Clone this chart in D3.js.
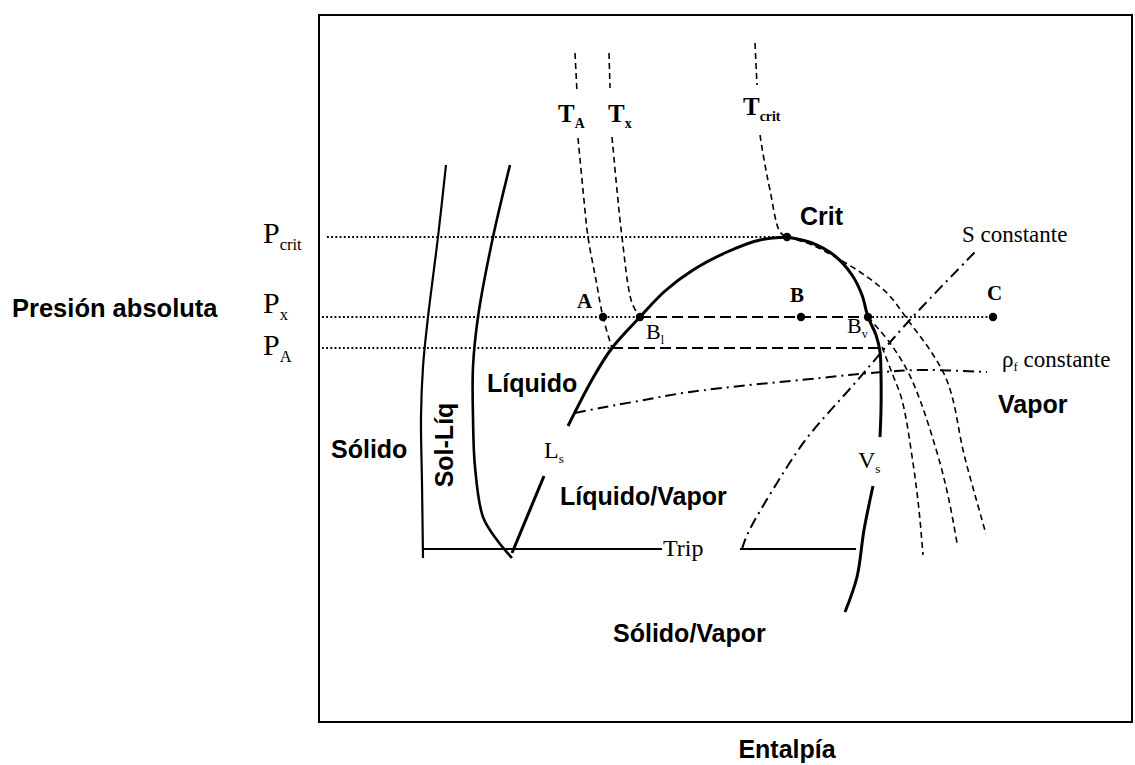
<!DOCTYPE html>
<html>
<head>
<meta charset="utf-8">
<script src="https://cdn.jsdelivr.net/npm/d3@7"></script>
<style>
body { margin: 0; background: #fff; }
.sans { font-family: "Liberation Sans", Arial, sans-serif; font-weight: bold; font-size: 25px; }
.serif { font-family: "Liberation Serif", "Times New Roman", serif; }
</style>
</head>
<body>
<div id="SVG_CONTAINER"></div>
<script>
// enthalpy (x) and absolute pressure (y), arbitrary units
const P_CRIT = 485, P_X = 405, P_A = 374, P_TRIP = 173;

// saturation dome
const liquidSatUpper = [[249,296],[274,344],[293,374],[321,405],[346,431],[374,452],[408,470],[441,482],[468,485]];
const liquidSatLower = [[225,246],[193,169]];
const vaporSatUpper = [[468,485],[493,479],[516,466],[533,447],[543,427],[549,405],[557,387],[561,370],[562,347],[562,312],[561,285]];
const vaporSatLower = [[554,236],[545,192],[538,145],[526,110]];

// solid boundaries
const solidLine = [[127,557],[119,485],[109,405],[104,355],[102,305],[103,239],[104,164]];
const meltLine = [[191,557],[174,485],[159,405],[154,355],[154,305],[156,255],[164,205],[178,182],[193,164]];
const tripLeft = [[103,P_TRIP],[343,P_TRIP]];
const tripRight = [[421,P_TRIP],[537,P_TRIP]];

// isotherms (dashed)
const tA_top = [[256,669],[258,630]];
const tA_liq = [[259,584],[264,532],[269,485],[277,442],[284,405],[293,374]];
const tA_vap = [[563,375],[573,349],[583,322],[594,259],[600,212],[604,167]];
const tX_top = [[290,669],[291,634]];
const tX_liq = [[293,585],[298,532],[303,485],[313,419],[321,405]];
const tX_vap = [[549,405],[571,379],[588,352],[601,322],[621,259],[631,217],[638,179]];
const tCrit_top = [[436,679],[438,637]];
const tCrit_liq = [[441,587],[446,557],[451,532],[461,490],[468,485]];
const tCrit_vap = [[468,485],[493,477],[516,465],[541,450],[568,429],[591,399],[611,372],[626,346],[634,322],[644,272],[656,227],[667,188]];

// constant entropy / density (dash-dot)
const sConst = [[423,173],[429,189],[458,239],[488,284],[536,339],[589,400],[656,470]];
const rhoConst = [[256,309],[281,314],[314,320],[371,330],[501,344],[551,349],[601,352],[668,350]];

// isobars
const pCritDotted = [[8,P_CRIT],[468,P_CRIT]];
const pxDotted1 = [[3,P_X],[321,P_X]];
const pxDashed = [[321,P_X],[549,P_X]];
const pxDotted2 = [[549,P_X],[674,P_X]];
const paDotted = [[3,P_A],[293,P_A]];
const paDashed = [[293,P_A],[563,P_A]];

// state points
const stateNames = ["A", "Bl", "B", "Bv", "C", "Crit"];
const stateH = [284, 321, 482, 549, 674, 468];
const stateP = [P_X, P_X, P_X, P_X, P_X, P_CRIT];

const width = 1135, height = 765;

const svg = d3.select("#SVG_CONTAINER")
    .append("svg")
    .attr("width", width)
    .attr("height", height);

const x = d3.scaleLinear().domain([0, 813]).range([319, 1132]);
const y = d3.scaleLinear().domain([0, 707]).range([722, 15]);

// frame
svg.append("rect")
    .attr("x", x(0)).attr("y", y(707))
    .attr("width", x(813) - x(0)).attr("height", y(0) - y(707))
    .attr("fill", "none").attr("stroke", "#000").attr("stroke-width", 2);

const smooth = d3.line().x(d => x(d[0])).y(d => y(d[1])).curve(d3.curveCatmullRom);
const straight = d3.line().x(d => x(d[0])).y(d => y(d[1]));

function draw(pts, w, dash, gen) {
    svg.append("path")
        .attr("d", (gen || smooth)(pts))
        .attr("fill", "none")
        .attr("stroke", "#000")
        .attr("stroke-width", w)
        .attr("stroke-dasharray", dash || null);
}

const DOT = "1.8,2.4", DASH = "6,4", LDASH = "11,5", DASHDOT = "11,5,2,5";

// isobars
draw(pCritDotted, 1.8, DOT, straight);
draw(pxDotted1, 1.8, DOT, straight);
draw(pxDashed, 1.8, LDASH, straight);
draw(pxDotted2, 1.8, DOT, straight);
draw(paDotted, 1.8, DOT, straight);
draw(paDashed, 1.8, LDASH, straight);

// isotherms
[tA_top, tA_liq, tA_vap, tX_top, tX_liq, tX_vap, tCrit_top, tCrit_liq, tCrit_vap]
    .forEach(t => draw(t, 1.6, DASH));

// dash-dot lines
draw(sConst, 2, DASHDOT);
draw(rhoConst, 2, DASHDOT);

// solid lines
draw(solidLine, 2.2);
draw(meltLine, 2.6);
draw(tripLeft, 2, null, straight);
draw(tripRight, 2, null, straight);
draw(liquidSatUpper, 3);
draw(liquidSatLower, 3, null, straight);
draw(vaporSatUpper, 3);
draw(vaporSatLower, 3);

// state points
svg.selectAll("circle.state")
    .data(stateNames)
    .enter()
    .append("circle")
    .attr("class", "state")
    .attr("cx", (d, i) => x(stateH[i]))
    .attr("cy", (d, i) => y(stateP[i]))
    .attr("r", 4.2)
    .attr("fill", "#000");

// labels: [text, subscript, h, p, class, size, rotate]
const labels = [
    ["Presión absoluta", "", -307, 405, "sans", 25.5],
    ["Entalpía", "", 468, -36, "sans", 25, 0, "middle"],
    ["Crit", "", 481, 497, "sans", 25],
    ["Líquido", "", 168, 330, "sans", 25],
    ["Sólido", "", 12, 264, "sans", 25],
    ["Líquido/Vapor", "", 241, 217, "sans", 25],
    ["Vapor", "", 679, 309, "sans", 25],
    ["Sólido/Vapor", "", 294, 80, "sans", 25],
    ["P", "crit", -56, 479, "serif", 30],
    ["P", "x", -56, 409, "serif", 30],
    ["P", "A", -56, 367, "serif", 30],
    ["T", "A", 239, 600, "serif bold", 25],
    ["T", "x", 289, 600, "serif bold", 25],
    ["T", "crit", 424, 607, "serif bold", 25],
    ["A", "", 258, 414, "serif bold", 21],
    ["B", "", 471, 420, "serif bold", 21],
    ["C", "", 668, 422, "serif bold", 21],
    ["B", "l", 327, 383, "serif", 22],
    ["B", "v", 528, 389, "serif", 22],
    ["L", "s", 225, 264, "serif", 24],
    ["V", "s", 539, 254, "serif", 24],
    ["Trip", "", 344, 166, "serif", 24],
    ["S constante", "", 643, 480, "serif", 23],
];

labels.forEach(l => {
    const t = svg.append("text")
        .attr("class", l[4].split(" ")[0])
        .attr("x", x(l[2]))
        .attr("y", y(l[3]))
        .attr("text-anchor", l[7] || "start")
        .style("font-size", l[5] + "px")
        .style("font-weight", l[4].indexOf("bold") >= 0 || l[4] === "sans" ? "bold" : "normal")
        .text(l[0]);
    if (l[1]) {
        t.append("tspan")
            .attr("dy", l[5] * 0.22)
            .style("font-size", (l[5] * 0.55) + "px")
            .text(l[1]);
    }
});

// rho_f constante
const rho = svg.append("text")
    .attr("class", "serif")
    .attr("x", x(683)).attr("y", y(355))
    .style("font-size", "23px")
    .text("ρ");
rho.append("tspan").attr("dy", 4).style("font-size", "13px").text("f");
rho.append("tspan").attr("dy", -4).text(" constante");

// Sol-Liq rotated
svg.append("text")
    .attr("class", "sans")
    .attr("transform", "translate(" + x(127) + "," + y(277) + ") rotate(-90)")
    .attr("text-anchor", "middle")
    .attr("dominant-baseline", "middle")
    .text("Sol-Líq");
</script>
</body>
</html>
